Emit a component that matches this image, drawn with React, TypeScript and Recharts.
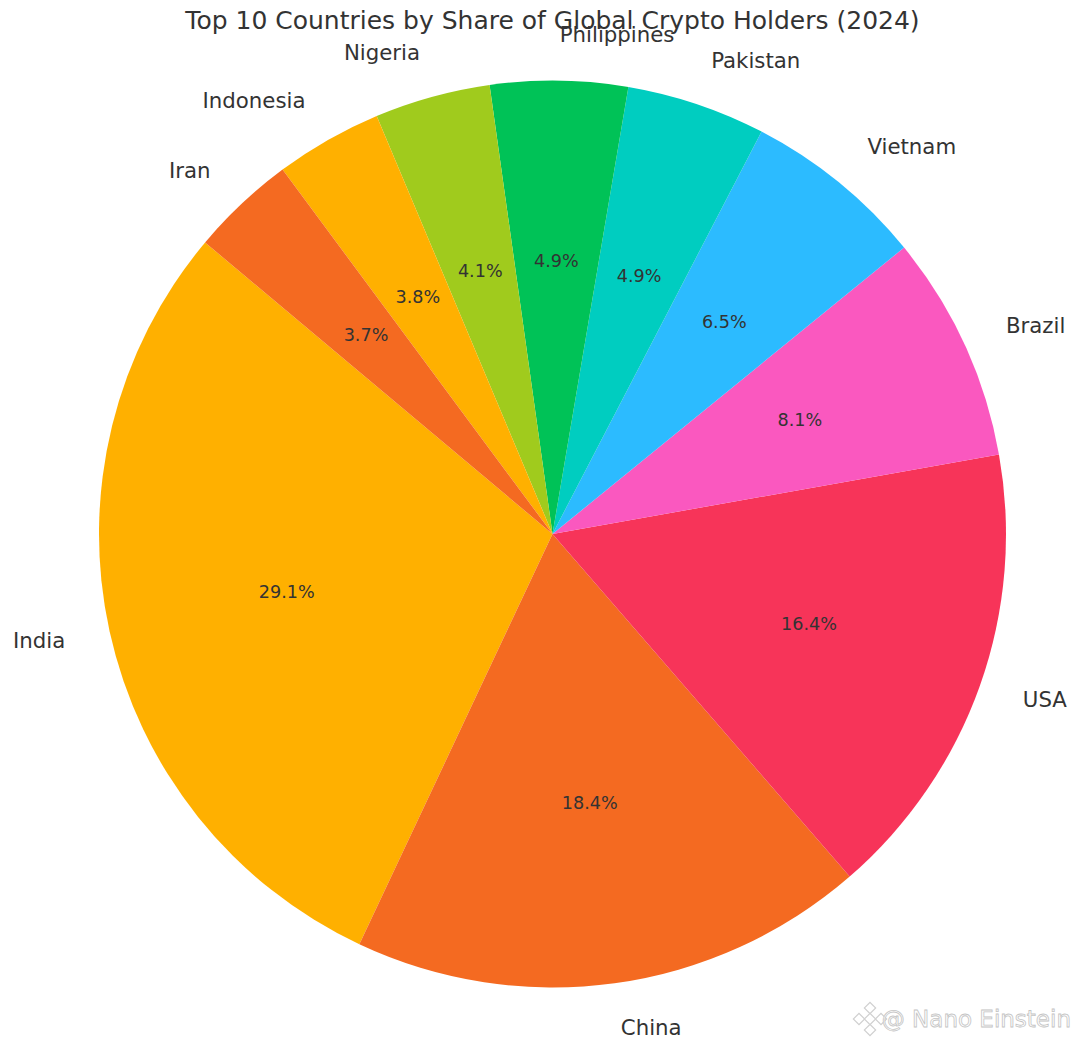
import { Pie, PieChart, Cell } from "recharts";

const COUNTRIES = ["India", "China", "USA", "Brazil", "Vietnam", "Pakistan", "Philippines", "Nigeria", "Indonesia", "Iran"];
// extra decimals estimated from the slice edges, the labels print one
const SHARES = [29.1, 18.37, 16.43, 8.07, 6.49, 4.949, 4.89, 4.12, 3.81, 3.74];
const COLORS = ["#ffb000", "#f46a21", "#f73459", "#fa58bf", "#2cbbff", "#00cdc0", "#00c257", "#a0cb1d", "#ffb000", "#f46a21"];

const FONT = "'DejaVu Sans', sans-serif";
const RAD = Math.PI / 180;
const rows = COUNTRIES.map((name, i) => ({ name, share: SHARES[i] }));

function SliceLabel(props: any) {
  const { cx, cy, midAngle, outerRadius, name, value } = props;
  const cos = Math.cos(midAngle * RAD);
  const sin = Math.sin(midAngle * RAD);
  return (
    <g fontFamily={FONT} fill="#333333">
      <text
        x={cx + outerRadius * 1.1 * cos}
        y={cy - outerRadius * 1.1 * sin - 0.5}
        fontSize={21.3}
        textAnchor={cos >= 0 ? "start" : "end"}
        dominantBaseline="central"
      >
        {name}
      </text>
      <text
        x={cx + outerRadius * 0.6 * cos}
        y={cy - outerRadius * 0.6 * sin - 0.5}
        fontSize={17.6}
        textAnchor="middle"
        dominantBaseline="central"
      >
        {value.toFixed(1)}%
      </text>
    </g>
  );
}

// watermark logo, not data
function Logo() {
  return (
    <g transform="translate(870 1019)" fill="#ffffff" stroke="#d0d0d0" strokeWidth={1.2}>
      <rect x={-4} y={-15} width={8} height={8} transform="rotate(45 0 -11)" />
      <rect x={-4} y={7} width={8} height={8} transform="rotate(45 0 11)" />
      <rect x={-15} y={-4} width={8} height={8} transform="rotate(45 -11 0)" />
      <rect x={7} y={-4} width={8} height={8} transform="rotate(45 11 0)" />
      <rect x={-4} y={-4} width={8} height={8} transform="rotate(45)" />
    </g>
  );
}

export default function App() {
  return (
    <div style={{ position: "absolute", left: 0, top: 0, width: 1080, height: 1044, background: "#fff" }}>
      <PieChart width={1080} height={1044} margin={{ top: 0, right: 0, bottom: 0, left: 0 }}>
        <Pie
          data={rows}
          dataKey="share"
          nameKey="name"
          cx={552.5}
          cy={534}
          outerRadius={453.5}
          startAngle={140}
          endAngle={500}
          stroke="none"
          label={SliceLabel}
          labelLine={false}
          isAnimationActive={false}
        >
          {rows.map((r, i) => (
            <Cell key={r.name} fill={COLORS[i]} />
          ))}
        </Pie>
        <text x={552.5} y={20} fontFamily={FONT} fontSize={25} fill="#333333" textAnchor="middle" dominantBaseline="central">
          Top 10 Countries by Share of Global Crypto Holders (2024)
        </text>
        <Logo />
        <text x={1071} y={1019} fontFamily={FONT} fontSize={23} fill="#ffffff" stroke="#c4c4c4" strokeWidth={0.8} textAnchor="end" dominantBaseline="central">
          @ Nano Einstein
        </text>
      </PieChart>
    </div>
  );
}
